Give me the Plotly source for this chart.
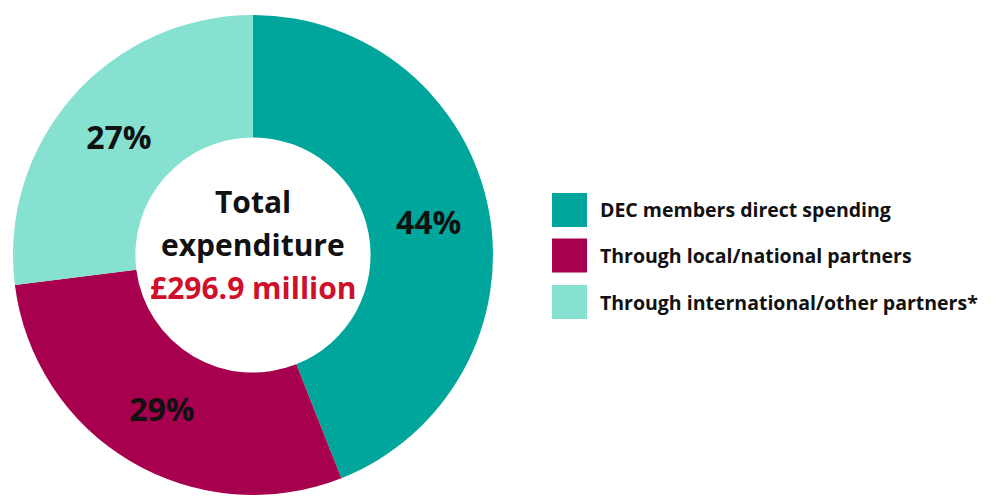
import plotly.graph_objects as go

categories = ["DEC members direct spending", "Through local/national partners", "Through international/other partners*"]
values = [44, 29, 27]
colors = ["#00A69C", "#A6004E", "#86E1D0"]
center_lines = ["Total", "expenditure", "£296.9 million"]
center_colors = ["#111111", "#111111", "#D0102B"]

FONT = "Open Sans"
W, H = 1000, 496
cx, cy, R = 253, 255, 240

fig = go.Figure(go.Pie(
    values=values,
    labels=categories,
    hole=0.49,
    sort=False,
    direction="clockwise",
    rotation=0,
    marker=dict(colors=colors, line=dict(width=0)),
    texttemplate="<b>%{value}%</b>",
    textposition="inside",
    insidetextorientation="horizontal",
    textfont=dict(family=FONT, size=32, color="#111111"),
    showlegend=False,
    hoverinfo="label+percent",
    domain=dict(x=[(cx - R) / W, (cx + R) / W], y=[(H - cy - R) / H, (H - cy + R) / H]),
))

annotations = []
line_y = [201, 244, 287]
for txt, col, yy in zip(center_lines, center_colors, line_y):
    annotations.append(dict(
        x=cx / W, y=1 - yy / H, xref="paper", yref="paper",
        text=f"<b>{txt}</b>", showarrow=False, xanchor="center", yanchor="middle",
        font=dict(family=FONT, size=30, color=col),
    ))

shapes = []
row_y = [210, 255.5, 302]
for cat, col, yy in zip(categories, colors, row_y):
    shapes.append(dict(
        type="rect", xref="paper", yref="paper",
        x0=552 / W, x1=587 / W, y0=1 - (yy + 17) / H, y1=1 - (yy - 17) / H,
        fillcolor=col, line=dict(width=0),
    ))
    annotations.append(dict(
        x=598 / W, y=1 - yy / H, xref="paper", yref="paper",
        text=f"<b>{cat}</b>", showarrow=False, xanchor="left", yanchor="middle",
        font=dict(family=FONT, size=19.5, color="#111111"),
    ))

fig.update_layout(
    width=W, height=H,
    margin=dict(l=0, r=0, t=0, b=0),
    paper_bgcolor="white", plot_bgcolor="white",
    annotations=annotations, shapes=shapes,
)

fig.write_html("out.html")
